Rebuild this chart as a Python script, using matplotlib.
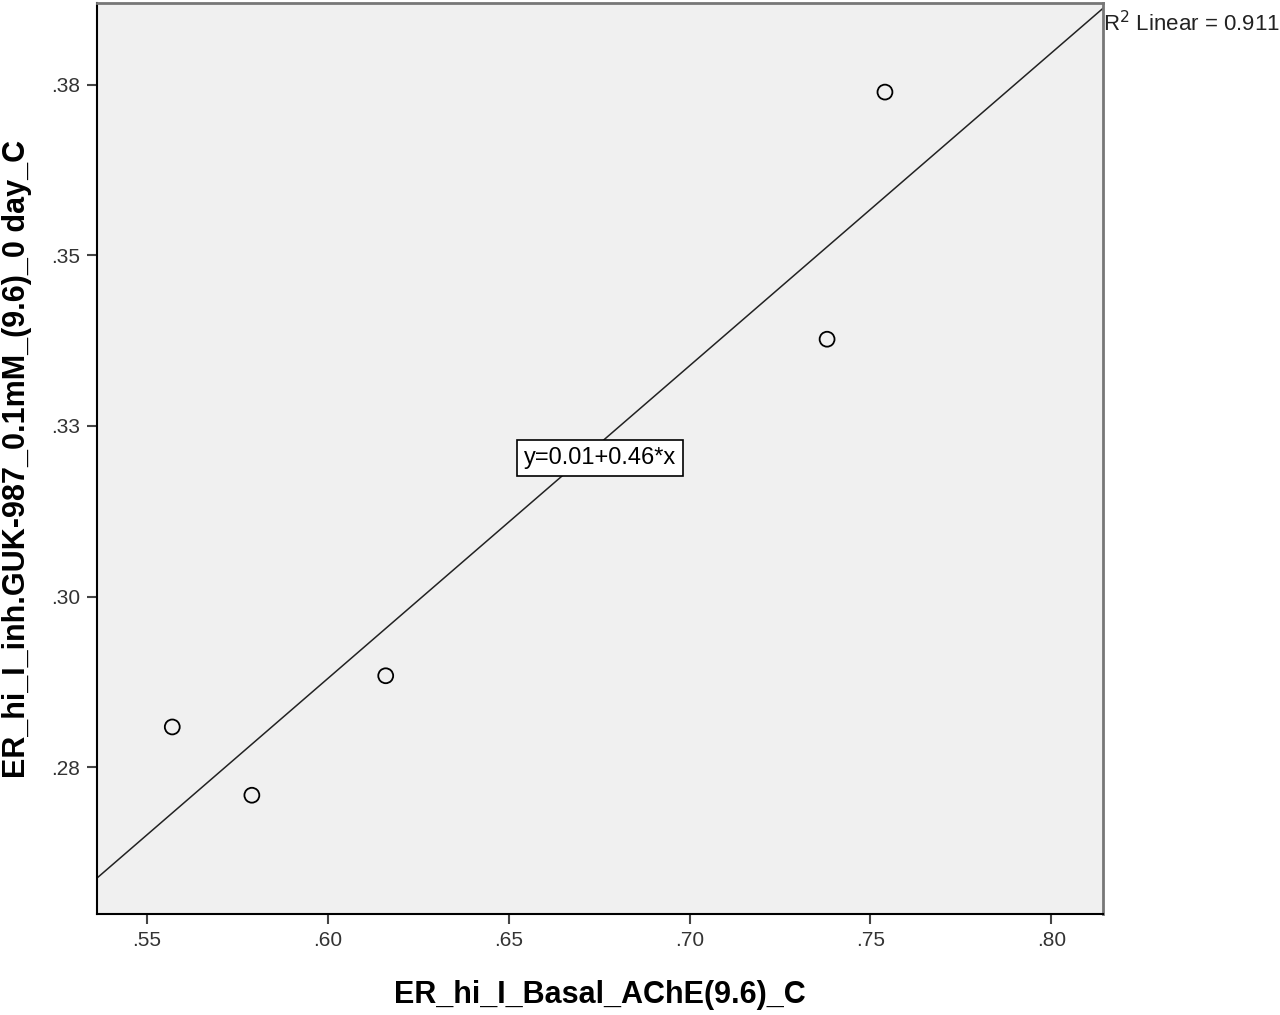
import numpy as np
import matplotlib
matplotlib.use("Agg")
import matplotlib.pyplot as plt

plt.rcParams['font.family'] = ['Liberation Sans', 'DejaVu Sans']

# data
basal_ache = [0.557, 0.579, 0.616, 0.738, 0.754]
inh_guk = [0.2809, 0.2709, 0.2884, 0.3377, 0.3739]

x_ticks = [0.55, 0.60, 0.65, 0.70, 0.75, 0.80]
x_labels = ['.55', '.60', '.65', '.70', '.75', '.80']
y_ticks = [0.275, 0.300, 0.325, 0.350, 0.375]
y_labels = ['.28', '.30', '.33', '.35', '.38']

x_label = 'ER_hi_I_Basal_AChE(9.6)_C'
y_label = 'ER_hi_I_inh.GUK-987_0.1mM_(9.6)_0 day_C'

xlim = (0.5362, 0.8143)
ylim = (0.2535, 0.3869)

fig = plt.figure(figsize=(12.8, 10.15), dpi=100)
ax = fig.add_axes([0.0758, 0.0995, 0.786, 0.8972])
ax.set_facecolor('#f0f0f0')

# fit line across the axis range
slope, intercept = np.polyfit(basal_ache, inh_guk, 1)
xx = np.array(xlim)
ax.plot(xx, intercept + slope * xx, color='#222222', linewidth=1.1, zorder=2)

ax.scatter(basal_ache, inh_guk, s=115, facecolors='none', edgecolors='black',
           linewidths=1.3, zorder=3)

ax.set_xlim(*xlim)
ax.set_ylim(*ylim)
ax.set_xticks(x_ticks)
ax.set_xticklabels(x_labels)
ax.set_yticks(y_ticks)
ax.set_yticklabels(y_labels)
ax.tick_params(direction='out', length=7, width=1.5, color='#444444',
               labelsize=15, labelcolor='#333333', pad=5)

for side in ['left', 'bottom']:
    ax.spines[side].set_color('black')
    ax.spines[side].set_linewidth(1.5)
for side in ['right', 'top']:
    ax.spines[side].set_color('#777777')
    ax.spines[side].set_linewidth(2)

ax.set_xlabel(x_label, fontsize=22, fontweight='bold', labelpad=22)
ax.set_ylabel(y_label, fontsize=22, fontweight='bold', labelpad=14)

# equation box and R² annotation
ax.text(0.6752, 0.3203, 'y=0.01+0.46*x', fontsize=17, ha='center', va='center',
        bbox=dict(boxstyle='square,pad=0.3', facecolor='white',
                  edgecolor='black', linewidth=1.2), zorder=4)
ax.text(1.0, 0.978, 'R$^2$ Linear = 0.911', transform=ax.transAxes,
        fontsize=16, ha='left', va='center', color='#222222')

fig.savefig('out.png', dpi=100)
